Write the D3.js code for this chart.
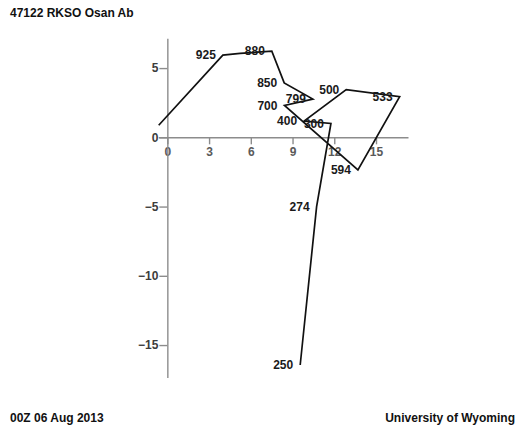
<!DOCTYPE html>
<html>
<head>
<meta charset="utf-8">
<script src="https://cdn.jsdelivr.net/npm/d3@7"></script>
<style>
  body { margin: 0; background: #fff; }
  svg { font-family: "Liberation Sans", Arial, Helvetica, sans-serif; }
  .axis path, .axis line { stroke: #8c8c8c; stroke-width: 1.4; }
  .axis text { fill: #3c3c3c; font-size: 12px; font-weight: bold; }
  .xaxis text { fill: #5a5a5a; }
  .trace { fill: none; stroke: #111; stroke-width: 1.7; stroke-linejoin: miter; }
  .lev { fill: #1a1a1a; font-size: 12px; font-weight: bold; }
  .head { font-size: 12px; font-weight: bold; fill: #111; }
</style>
</head>
<body>
<svg id="chart" width="523" height="427"></svg>
<script>
// hodograph points (knots), pressure label ('' = unlabeled vertex)
var levels = ['', '925', '', '880', '850', '799', '700', '594', '533', '500', '400', '300', '274', '250'];
var uwind = [-0.62, 3.99, 5.23, 7.51, 8.40, 10.46, 8.42, 13.70, 16.70, 12.86, 9.83, 11.76, 10.73, 9.55];
var vwind = [0.87, 5.94, 6.06, 6.22, 3.93, 2.76, 2.30, -2.36, 2.93, 3.45, 1.17, 1.00, -5.01, -16.44];
var xticks = [0, 3, 6, 9, 12, 15];
var yticks = [5, 0, -5, -10, -15];
var station = '47122 RKSO Osan Ab';
var stamp = '00Z 06 Aug 2013';
var source = 'University of Wyoming';

var svg = d3.select('#chart');

var x = d3.scaleLinear().domain([-0.65, 17.3]).range([158.3, 408]);
var y = d3.scaleLinear().domain([-17.35, 7.15]).range([377.6, 38.3]);

var pts = levels.map(function (l, i) { return {lev: l, u: uwind[i], v: vwind[i]}; });

// Axes through the origin
svg.append('g')
  .attr('class', 'axis xaxis')
  .attr('transform', 'translate(0,' + y(0) + ')')
  .call(d3.axisBottom(x).tickValues(xticks).tickSize(7).tickSizeOuter(0).tickPadding(3));
svg.append('g')
  .attr('class', 'axis yaxis')
  .attr('transform', 'translate(' + x(0) + ',0)')
  .call(d3.axisLeft(y).tickValues(yticks).tickSize(8).tickSizeOuter(0).tickPadding(1));
svg.selectAll('.axis .domain').attr('fill', 'none');

// Wind trace
svg.append('path')
  .classed('trace', true)
  .attr('d', d3.line()
    .x(function (d) { return x(d.u); })
    .y(function (d) { return y(d.v); })
    (pts));

// Level labels
svg.append('g')
  .selectAll('text')
  .data(pts.filter(function (d) { return d.lev; }))
  .enter().append('text')
  .classed('lev', true)
  .attr('x', function (d) { return x(d.u) - 7; })
  .attr('y', function (d) { return y(d.v); })
  .attr('dy', '0.35em')
  .attr('text-anchor', 'end')
  .text(function (d) { return d.lev; });

// Header / footer
svg.append('text').classed('head', true).attr('x', 10).attr('y', 16.7).text(station);
svg.append('text').classed('head', true).attr('x', 10).attr('y', 421.7).text(stamp);
svg.append('text').classed('head', true).attr('x', 515).attr('y', 421.7)
  .attr('text-anchor', 'end').text(source);
</script>
</body>
</html>
